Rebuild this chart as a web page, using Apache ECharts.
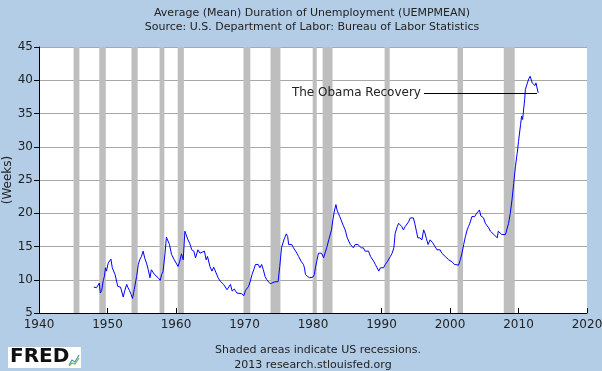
<!DOCTYPE html>
<html>
<head>
<meta charset="utf-8">
<script src="https://cdn.jsdelivr.net/npm/echarts@6/dist/echarts.min.js"></script>
<style>html,body{margin:0;padding:0;background:#b4cde6;}#c{width:602px;height:371px;}</style>
</head>
<body>
<div id="c"></div>
<script>
// Decimal years and mean duration (weeks)
var years = [
1948.0,1948.2,1948.4,1948.6,1948.8,1948.95,1949.15,1949.4,1949.55,1949.7,1949.85,1950.1,1950.35,1950.5,1950.7,1950.85,
1951.1,1951.3,1951.5,1951.7,1951.9,1952.1,1952.3,1952.5,1952.8,1953.0,1953.2,1953.45,1953.65,1953.9,1954.25,1954.5,1954.7,1954.95,
1955.2,1955.45,1955.7,1955.95,1956.2,1956.4,1956.6,1956.85,1957.1,1957.4,1957.7,1957.9,1958.1,1958.4,1958.6,1958.8,1959.05,1959.35,1959.75,
1960.0,1960.3,1960.55,1960.8,1961.05,1961.3,1961.5,1961.75,1962.0,1962.3,1962.6,1962.85,1963.2,1963.5,1963.75,1964.15,1964.4,1964.6,1964.95,
1965.25,1965.5,1965.75,1966.15,1966.45,1966.7,1966.95,1967.2,1967.45,1967.7,1967.95,1968.2,1968.5,1968.9,1969.15,1969.6,1969.9,
1970.15,1970.4,1970.6,1970.85,1971.1,1971.35,1971.6,1971.8,1972.0,1972.25,1972.5,1972.75,1973.0,1973.25,1973.5,1973.75,1974.0,1974.45,1974.7,1974.9,
1975.15,1975.4,1975.75,1975.95,1976.1,1976.3,1976.45,1976.65,1976.9,1977.15,1977.4,1977.65,1977.9,1978.25,1978.6,1978.75,1978.9,1979.2,1979.5,1979.75,
1980.0,1980.2,1980.35,1980.55,1980.8,1981.0,1981.25,1981.55,1981.75,1982.0,1982.3,1982.7,1982.9,1983.15,1983.35,1983.5,1983.7,1983.9,1984.1,1984.4,1984.7,
1985.0,1985.2,1985.45,1985.7,1985.9,1986.15,1986.35,1986.55,1986.8,1987.05,1987.35,1987.6,1987.85,1988.1,1988.4,1988.65,1988.85,1989.1,1989.35,1989.6,1989.85,
1990.05,1990.3,1990.55,1990.75,1990.9,1991.3,1991.55,1991.8,1992.0,1992.3,1992.5,1992.7,1992.95,1993.2,1993.45,1993.7,1993.95,1994.2,1994.45,1994.65,1994.85,
1995.1,1995.3,1995.6,1995.9,1996.15,1996.35,1996.55,1996.8,1997.1,1997.3,1997.45,1997.6,1998.1,1998.3,1998.55,1998.8,1999.05,1999.3,1999.55,1999.8,
2000.0,2000.3,2000.45,2000.65,2000.9,2001.25,2001.5,2001.75,2002.0,2002.25,2002.5,2002.7,2002.9,2003.2,2003.4,2003.6,2003.9,2004.1,2004.3,2004.5,2004.7,2004.9,
2005.15,2005.4,2005.65,2005.9,2006.15,2006.4,2006.65,2006.9,2007.05,2007.3,2007.55,2007.8,2008.1,2008.3,2008.55,2008.8,2009.05,2009.3,2009.55,2009.8,2009.9,
2010.0,2010.3,2010.45,2010.6,2010.75,2010.9,2011.0,2011.15,2011.3,2011.5,2011.7,2011.8,2012.0,2012.2,2012.4,2012.55,2012.7,2012.82,2012.87
];
var weeks = [
8.9,8.6,8.8,8.5,9.5,8.0,8.4,10.0,10.5,11.8,11.3,12.5,12.4,13.1,11.8,11.5,
10.8,10.5,9.0,9.2,8.9,8.8,7.4,8.3,9.3,8.8,8.4,7.8,7.2,8.5,10.5,12.3,13.0,13.5,
14.3,13.2,12.5,11.5,10.3,11.5,11.3,10.8,10.5,10.3,9.9,10.8,11.2,14.0,16.4,16.2,15.3,13.8,13.0,
13.2,12.0,12.8,13.9,13.0,17.3,17.0,16.0,15.5,14.5,14.3,13.3,14.5,14.0,14.0,14.3,13.0,13.5,12.0,
11.3,11.9,11.7,10.3,9.8,10.0,9.3,9.0,8.5,8.8,9.3,8.3,8.6,8.0,7.75,7.9,7.6,
8.4,8.5,9.0,9.8,10.8,11.5,12.3,12.6,12.3,11.8,12.3,11.5,10.5,10.0,9.75,9.4,9.7,9.7,9.8,9.7,
12.0,14.8,16.0,16.3,16.9,16.5,15.3,15.6,15.3,14.8,14.6,14.0,13.5,12.8,12.3,11.8,10.8,10.5,10.3,10.6,
10.4,10.8,11.8,12.8,14.0,14.3,14.0,13.3,14.0,14.8,16.0,17.5,19.0,20.5,21.3,20.5,20.0,19.5,19.0,18.2,17.5,
16.3,16.0,15.3,15.6,14.8,15.3,15.4,15.3,15.0,14.8,14.8,14.3,14.2,14.3,13.5,13.3,12.8,12.3,11.8,11.3,11.8,
11.6,11.8,12.3,12.4,12.8,13.5,14.0,14.8,17.0,18.0,18.5,18.7,18.0,17.5,18.0,18.3,18.7,19.3,19.0,19.3,18.5,
17.3,16.3,16.3,16.0,17.5,17.0,16.2,15.3,16.0,15.8,15.6,15.3,14.5,14.3,14.5,14.0,13.8,13.5,13.3,13.0,
12.8,12.7,12.4,12.3,12.5,12.2,13.0,14.0,15.3,16.5,17.5,18.0,18.5,19.5,19.8,19.5,20.0,19.8,20.5,19.6,19.8,19.3,
18.5,18.3,17.8,17.3,17.1,16.8,16.5,16.3,17.3,17.0,16.8,17.0,16.8,17.0,18.5,20.0,22.0,24.5,27.0,29.0,29.8,
30.8,33.3,34.6,34.1,34.3,37.1,38.6,38.4,39.6,40.2,40.6,40.7,39.6,39.8,39.2,39.6,39.8,39.4,38.1
];
var recStart = [1945.05,1948.8,1953.5,1957.6,1960.25,1969.85,1973.8,1979.95,1981.4,1990.45,2001.1,2007.85];
var recEnd   = [1945.9,1949.75,1954.4,1958.3,1961.15,1970.85,1975.25,1980.55,1982.85,1991.2,2001.9,2009.45];
var yTicks = [5,10,15,20,25,30,35,40,45];
var xTicks = [1940,1950,1960,1970,1980,1990,2000,2010,2020];
var noteText = 'The Obama Recovery';
var noteStart = [1996.2, 38.1];
var noteEnd = [2012.7, 38.1];

var FONT = 'DejaVu Sans';
var pts = years.map(function(y, i){ return [y, weeks[i]]; });
var areas = recStart.map(function(s, i){ return [{xAxis: s}, {xAxis: recEnd[i]}]; });

var chart = echarts.init(document.getElementById('c'), null, {renderer: 'canvas'});
chart.setOption({
  backgroundColor: '#b4cde6',
  animation: false,
  textStyle: {fontFamily: FONT},
  title: [
    {text: 'Average (Mean) Duration of Unemployment (UEMPMEAN)', left: 307, top: 3, textAlign: 'center',
     textStyle: {fontSize: 11, fontWeight: 'normal', color: '#222', fontFamily: FONT}},
    {text: 'Source: U.S. Department of Labor: Bureau of Labor Statistics', left: 307, top: 17, textAlign: 'center',
     textStyle: {fontSize: 11, fontWeight: 'normal', color: '#222', fontFamily: FONT}},
    {text: 'Shaded areas indicate US recessions.', left: 313, top: 340, textAlign: 'center',
     textStyle: {fontSize: 11, fontWeight: 'normal', color: '#222', fontFamily: FONT}},
    {text: '2013 research.stlouisfed.org', left: 308, top: 355, textAlign: 'center',
     textStyle: {fontSize: 11, fontWeight: 'normal', color: '#222', fontFamily: FONT}}
  ],
  grid: {left: 39, right: 15, top: 47, bottom: 58, show: true, backgroundColor: '#ffffff', borderWidth: 0,
         containLabel: false, outerBoundsMode: 'none'},
  xAxis: {
    type: 'value', min: xTicks[0], max: xTicks[xTicks.length - 1], interval: 10,
    axisLine: {show: true, onZero: false, lineStyle: {color: '#000', width: 1}},
    axisTick: {show: true, inside: true, length: 5, lineStyle: {color: '#000'}},
    axisLabel: {color: '#222', fontSize: 12, margin: 6, fontFamily: FONT, formatter: function(v){ return String(v); }},
    splitLine: {show: false}
  },
  yAxis: {
    type: 'value', min: yTicks[0], max: yTicks[yTicks.length - 1], interval: 5,
    axisLine: {show: true, lineStyle: {color: '#000', width: 1}},
    axisTick: {show: true, length: 5, lineStyle: {color: '#000'}},
    axisLabel: {color: '#222', fontSize: 12, margin: 6, fontFamily: FONT},
    splitLine: {show: true, lineStyle: {color: '#a8a8a8', width: 1}}
  },
  series: [
    {type: 'line', data: [], z: 1, silent: true,
     markArea: {silent: true, itemStyle: {color: '#bebebe', opacity: 1}, data: areas}},
    {type: 'line', data: pts, z: 3, showSymbol: false, symbol: 'none',
     lineStyle: {color: '#0000ff', width: 1}, itemStyle: {color: '#0000ff'},
     markLine: {silent: true, symbol: 'none', animation: false,
       lineStyle: {color: '#000', width: 1, type: 'solid'},
       label: {show: true, position: 'start', formatter: noteText, color: '#222', fontSize: 12, fontFamily: FONT, distance: 3},
       data: [[{coord: noteStart}, {coord: noteEnd}]]}}
  ],
  graphic: [
    {type: 'text', x: 8, y: 180, rotation: Math.PI / 2,
     style: {text: '(Weeks)', font: '12px "DejaVu Sans"', fill: '#222', align: 'center', verticalAlign: 'middle'}},
    {type: 'rect', left: 8, top: 347, shape: {width: 73, height: 21}, style: {fill: '#ffffff'}},
    {type: 'text', left: 10, top: 347, style: {text: 'FRED', font: 'bold 20px "DejaVu Sans"', fill: '#111'}},
    {type: 'polyline', shape: {points: [[69,365],[72,360],[75,362],[79,355]]}, style: {stroke: '#4a90c0', lineWidth: 1.2, fill: null}},
    {type: 'polyline', shape: {points: [[69,366],[72,363],[75,364],[79,358]]}, style: {stroke: '#7ab648', lineWidth: 1.2, fill: null}}
  ]
});
</script>
</body>
</html>
